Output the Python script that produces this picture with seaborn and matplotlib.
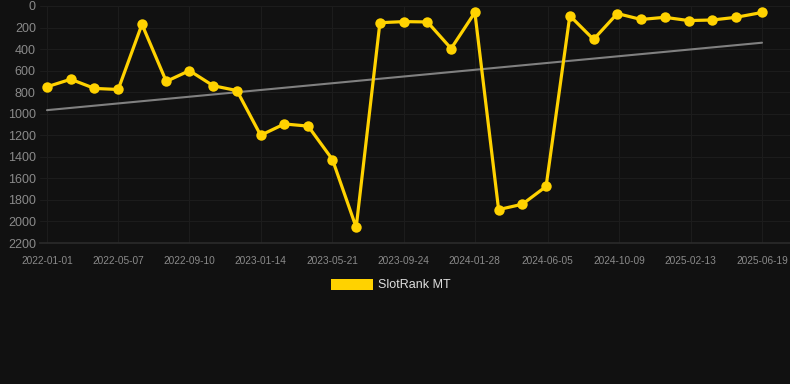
import matplotlib
matplotlib.use("Agg")
import matplotlib.pyplot as plt
import matplotlib.dates as mdates
from matplotlib.patches import Patch
import seaborn as sns
import numpy as np
import pandas as pd

dates = ["2022-01-01", "2022-02-12", "2022-03-26", "2022-05-07", "2022-06-18",
         "2022-07-31", "2022-09-10", "2022-10-22", "2022-12-03", "2023-01-14",
         "2023-02-25", "2023-04-08", "2023-05-21", "2023-07-02", "2023-08-13",
         "2023-09-24", "2023-11-05", "2023-12-17", "2024-01-28", "2024-03-10",
         "2024-04-21", "2024-06-02", "2024-07-14", "2024-08-25", "2024-10-06",
         "2024-11-17", "2024-12-29", "2025-02-09", "2025-03-23", "2025-05-04",
         "2025-06-19"]
ranks = [750, 680, 765, 775, 170, 700, 600, 740, 785, 1200,
         1095, 1115, 1425, 2055, 155, 145, 148, 395, 60, 1890,
         1840, 1675, 90, 310, 70, 125, 105, 135, 130, 105, 60]
tick_labels = ["2022-01-01", "2022-05-07", "2022-09-10", "2023-01-14", "2023-05-21",
               "2023-09-24", "2024-01-28", "2024-06-05", "2024-10-09", "2025-02-13",
               "2025-06-19"]
y_ticks = [0, 200, 400, 600, 800, 1000, 1200, 1400, 1600, 1800, 2000, 2200]
series_name = "SlotRank MT"

df = pd.DataFrame({"date": pd.to_datetime(dates), "rank": ranks})

bg = "#111111"
sns.set_theme(style="dark")
plt.rcParams["font.family"] = ["Liberation Sans", "DejaVu Sans"]

fig = plt.figure(figsize=(7.9, 3.84), dpi=100, facecolor=bg)
ax = fig.add_axes([40 / 790, 1 - 243 / 384, 750 / 790, 237 / 384])
ax.set_facecolor(bg)

# trend line (linear regression)
xnum = mdates.date2num(df["date"])
slope, intercept = np.polyfit(xnum, df["rank"], 1)
trend = pd.DataFrame({"date": df["date"].iloc[[0, -1]],
                      "rank": slope * xnum[[0, -1]] + intercept})
sns.lineplot(data=trend, x="date", y="rank", ax=ax, color="#808080",
             linewidth=1.5, zorder=2)

sns.lineplot(data=df, x="date", y="rank", ax=ax, color="#FFD200",
             linewidth=2.3, marker="o", markersize=7.5, markeredgewidth=0,
             zorder=3, clip_on=False)

start = mdates.date2num(pd.Timestamp(dates[0]))
end = mdates.date2num(pd.Timestamp(dates[-1]))
ppd = 715 / (end - start)
ax.set_xlim(start - 7 / ppd, end + 28 / ppd)
ax.set_ylim(2200, 0)

ax.set_xticks(mdates.date2num(pd.to_datetime(tick_labels)))
ax.set_xticklabels(tick_labels)
ax.set_yticks(y_ticks)
ax.set_yticklabels([str(v) for v in y_ticks])

ax.grid(True, color="#1c1c1c", linewidth=0.8)
ax.tick_params(axis="x", colors="#1c1c1c", labelcolor="#8a8a8a",
               labelsize=7.3, length=0, pad=9)
ax.tick_params(axis="y", colors="#1c1c1c", labelcolor="#8a8a8a",
               labelsize=9, length=0, pad=3)
for s in ["top", "right", "left"]:
    ax.spines[s].set_visible(False)
ax.spines["bottom"].set_color("#2a2a2a")
ax.set_xlabel("")
ax.set_ylabel("")

handle = Patch(facecolor="#FFD200", edgecolor="none")
fig.legend([handle], [series_name], loc="center",
           bbox_to_anchor=(391 / 790, 1 - 285 / 384), frameon=False,
           handlelength=3.4, handleheight=1.0, handletextpad=0.4,
           fontsize=9, labelcolor="#dddddd")

fig.savefig("out.png", dpi=100, facecolor=bg)
